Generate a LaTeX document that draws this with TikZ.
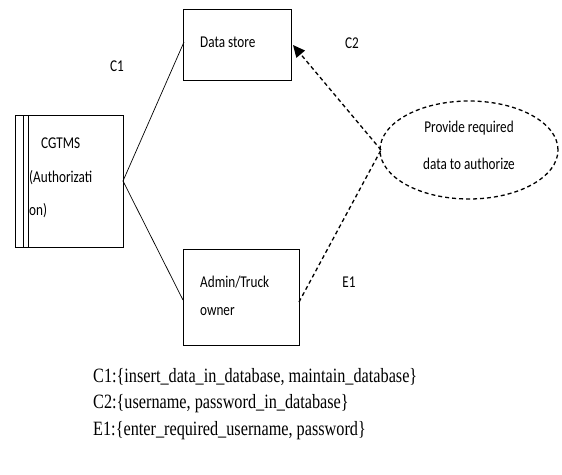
\documentclass[tikz,border=0pt]{standalone}
\usepackage{fontspec}
\setmainfont{Liberation Serif}
\newfontfamily\labelfont[FakeStretch=0.8]{Carlito}
\newfontfamily\legendfont[FakeStretch=0.8]{Liberation Serif}
\usetikzlibrary{arrows.meta,shapes.geometric}
\begin{document}
\begin{tikzpicture}[x=1pt,y=-1pt,
  box/.style={draw,line width=1.2pt,inner sep=0pt,anchor=north west},
  lbl/.style={font=\labelfont\fontsize{16.5}{19}\selectfont,inner sep=0pt},
  conn/.style={line width=0.7pt},
  dconn/.style={line width=1.3pt,dash pattern=on 4pt off 3pt},
  legend/.style={font=\legendfont\fontsize{20.3}{22}\selectfont,inner sep=0pt,anchor=west}]
\useasboundingbox (0,0) rectangle (562,474);

% system process with double left border
\node[box,minimum width=108pt,minimum height=132pt] (sys) at (15,115) {};
\draw[line width=1pt] (23,115) -- (23,247);
\draw[line width=1pt] (28,115) -- (28,247);
\node[lbl,anchor=west] (systxt1) at (41,143) {CGTMS};
\node[lbl,anchor=west] (systxt2) at (29,178) {(Authorizati};
\node[lbl,anchor=west] (systxt3) at (29,211) {on)};

% data store and admin boxes
\node[box,minimum width=108pt,minimum height=71pt] (store) at (183,9) {};
\node[lbl,anchor=west] at (200,42) {Data store};
\node[box,minimum width=116pt,minimum height=96pt] (admin) at (183,249) {};
\node[lbl,anchor=west] at (200,282) {Admin/Truck};
\node[lbl,anchor=west] at (200,312) {owner};

% process ellipse
\node[ellipse,draw,dconn,minimum width=178pt,minimum height=98pt] (proc) at (469,150) {};
\node[lbl,align=center] at (469,128) {Provide required};
\node[lbl,align=center] at (469,164) {data to authorize};

% connection points
\coordinate (sysR) at (123,181);
\coordinate (storeL) at (184,42);
\coordinate (adminL) at (183,300);
\coordinate (storeR) at (293,45);
\coordinate (adminR) at (299,302);
\coordinate (procL) at (381,150);

\draw[conn] (sysR) -- (storeL);
\draw[conn] (sysR) -- (adminL);
\draw[dconn,-{Triangle[length=12pt,width=11pt]}] (procL) -- (storeR);
\draw[dconn] (adminR) -- (procL);

% flow labels
\node[lbl] at (117,66) {C1};
\node[lbl] at (352,43) {C2};
\node[lbl] at (349,282) {E1};

% flow definitions
\node[legend] at (93,377) {C1:\{insert\_data\_in\_database, maintain\_database\}};
\node[legend] at (93,404) {C2:\{username, password\_in\_database\}};
\node[legend] at (93,431) {E1:\{enter\_required\_username, password\}};
\end{tikzpicture}
\end{document}
